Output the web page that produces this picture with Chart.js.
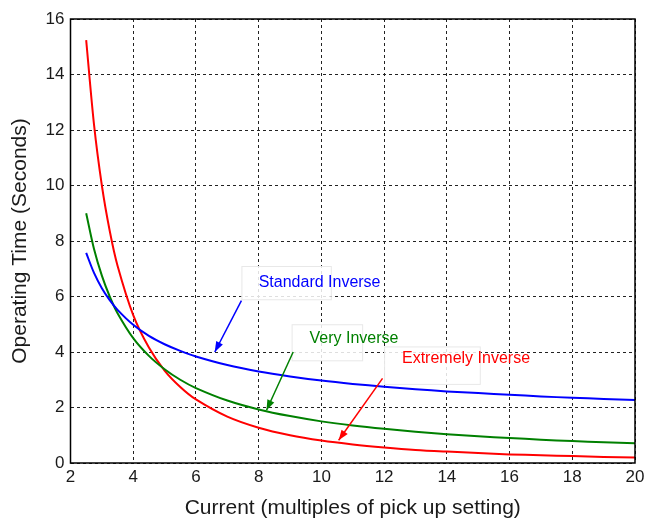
<!DOCTYPE html>
<html lang="en">
<head>
  <meta charset="UTF-8">
  <title>Inverse time curves</title>
  <script src="https://cdn.jsdelivr.net/npm/chart.js"></script>
  <style>
    body, html { margin: 0; padding: 0; background: #fff; }
    #wrap { width: 645px; height: 519px; }
  </style>
</head>
<body>
  <div id="wrap"><canvas id="curvas"></canvas></div>
  <script>
    // current, multiples of pick up setting
    const corriente = [2.5, 2.75, 3, 3.25, 3.5, 4, 4.5, 5, 5.5, 6, 7, 8, 9, 10, 11, 12, 13, 14, 15, 16, 17, 18, 19, 20];
    // operating time in seconds
    const standardInv = [7.57, 6.85, 6.30, 5.87, 5.52, 4.98, 4.58, 4.28, 4.04, 3.84, 3.53, 3.30, 3.12, 2.97, 2.85, 2.75, 2.66, 2.58, 2.52, 2.46, 2.40, 2.35, 2.31, 2.27];
    const veryInv = [9.0, 7.71, 6.75, 6.0, 5.4, 4.5, 3.86, 3.38, 3.0, 2.7, 2.25, 1.93, 1.69, 1.5, 1.35, 1.23, 1.13, 1.04, 0.96, 0.9, 0.84, 0.79, 0.75, 0.71];
    const extremelyInv = [15.24, 12.19, 10.0, 8.37, 7.11, 5.33, 4.16, 3.33, 2.74, 2.29, 1.67, 1.27, 1.0, 0.81, 0.67, 0.56, 0.47, 0.41, 0.36, 0.31, 0.28, 0.25, 0.22, 0.20];

    // annotation labels: text anchor, box, arrow start and end (data units)
    const notas = [
      { text: "Standard Inverse", color: "#0000ff", tx: 8.0, ty: 6.5, box: [7.45, 7.1, 10.3, 5.9], from: [7.45, 5.85], to: [6.6, 4.0] },
      { text: "Very Inverse", color: "#008000", tx: 9.62, ty: 4.5, box: [9.05, 5.0, 11.3, 3.7], from: [9.1, 4.0], to: [8.25, 1.9] },
      { text: "Extremely Inverse", color: "#ff0000", tx: 12.57, ty: 3.75, box: [12.0, 4.2, 15.05, 2.85], from: [11.95, 3.05], to: [10.55, 0.82] }
    ];

    const pares = (ys) => corriente.map((x, i) => ({ x, y: ys[i] }));

    const notasPlugin = {
      id: "notas",
      afterDatasetsDraw(chart) {
        const { ctx, scales: { x, y } } = chart;
        ctx.save();
        notas.forEach(n => {
          const bx0 = x.getPixelForValue(n.box[0]), by0 = y.getPixelForValue(n.box[1]);
          const bx1 = x.getPixelForValue(n.box[2]), by1 = y.getPixelForValue(n.box[3]);
          ctx.fillStyle = "rgba(255,255,255,0.85)";
          ctx.fillRect(bx0, by0, bx1 - bx0, by1 - by0);
          ctx.strokeStyle = "#e8e8e8";
          ctx.lineWidth = 1;
          ctx.strokeRect(bx0 + 0.5, by0 + 0.5, bx1 - bx0, by1 - by0);
          ctx.fillStyle = n.color;
          ctx.font = "16px 'Liberation Sans', Arial, sans-serif";
          ctx.textBaseline = "middle";
          ctx.fillText(n.text, x.getPixelForValue(n.tx), y.getPixelForValue(n.ty));
          const x0 = x.getPixelForValue(n.from[0]), y0 = y.getPixelForValue(n.from[1]);
          const x1 = x.getPixelForValue(n.to[0]), y1 = y.getPixelForValue(n.to[1]);
          ctx.strokeStyle = n.color;
          ctx.lineWidth = 1.5;
          ctx.beginPath(); ctx.moveTo(x0, y0); ctx.lineTo(x1, y1); ctx.stroke();
          const a = Math.atan2(y1 - y0, x1 - x0), L = 11, w = 0.35;
          ctx.fillStyle = n.color;
          ctx.beginPath();
          ctx.moveTo(x1, y1);
          ctx.lineTo(x1 - L * Math.cos(a - w), y1 - L * Math.sin(a - w));
          ctx.lineTo(x1 - L * Math.cos(a + w), y1 - L * Math.sin(a + w));
          ctx.closePath(); ctx.fill();
        });
        ctx.restore();
      }
    };

    const marco = {
      id: "marco",
      afterDraw(chart) {
        const { ctx, chartArea: a } = chart;
        ctx.save();
        ctx.strokeStyle = "#000";
        ctx.lineWidth = 1.5;
        ctx.strokeRect(a.left, a.top, a.right - a.left, a.bottom - a.top);
        ctx.restore();
      }
    };

    const familia = "'Liberation Sans', Arial, sans-serif";
    const fuente = { family: familia, size: 17 };
    const fuenteTitulo = { family: familia, size: 21, lineHeight: 1 };
    const ctx = document.getElementById("curvas").getContext("2d");
    new Chart(ctx, {
      type: "line",
      data: {
        datasets: [
          { label: "Standard Inverse", data: pares(standardInv), borderColor: "#0000ff", borderWidth: 2, pointRadius: 0, fill: false, tension: 0.3 },
          { label: "Very Inverse", data: pares(veryInv), borderColor: "#008000", borderWidth: 2, pointRadius: 0, fill: false, tension: 0.3 },
          { label: "Extremely Inverse", data: pares(extremelyInv), borderColor: "#ff0000", borderWidth: 2, pointRadius: 0, fill: false, tension: 0.3 }
        ]
      },
      options: {
        responsive: true,
        maintainAspectRatio: false,
        animation: false,
        layout: { padding: { top: 19, right: 10, left: 10, bottom: 0 } },
        plugins: { legend: { display: false }, tooltip: { enabled: false } },
        scales: {
          x: {
            type: "linear", min: 2, max: 20,
            ticks: { stepSize: 2, color: "#1a1a1a", font: fuente, padding: 4 },
            grid: { color: "#222", lineWidth: 1, tickLength: 0 },
            border: { display: false, dash: [3, 3] },
            title: { display: true, text: "Current (multiples of pick up setting)", color: "#1a1a1a", font: fuenteTitulo, padding: { top: 0, bottom: 0 } },
            afterFit: s => { s.height = 56; s.paddingRight = 0; }
          },
          y: {
            min: 0, max: 16,
            ticks: { stepSize: 2, color: "#1a1a1a", font: fuente, padding: 6 },
            grid: { color: "#222", lineWidth: 1, tickLength: 0 },
            border: { display: false, dash: [3, 3] },
            title: { display: true, text: "Operating Time (Seconds)", color: "#1a1a1a", font: fuenteTitulo, padding: { top: 0, bottom: 0 } },
            afterFit: s => { s.width = 60.5; }
          }
        }
      },
      plugins: [notasPlugin, marco]
    });
  </script>
</body>
</html>
